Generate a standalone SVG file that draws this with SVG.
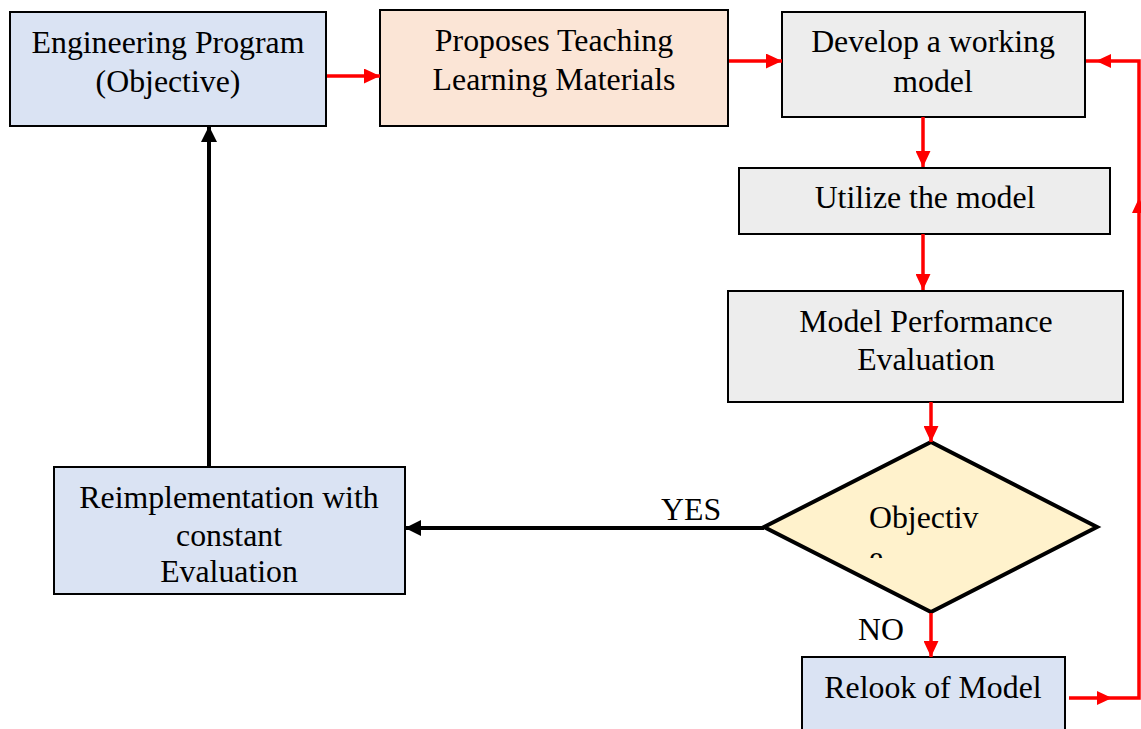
<svg xmlns="http://www.w3.org/2000/svg" width="1141" height="729" viewBox="0 0 1141 729">
<style>
.box{stroke:#000;stroke-width:2}
.t{font-family:"Liberation Serif","Times New Roman",serif;font-size:31.8px;fill:#000;text-anchor:middle}
.tl{font-family:"Liberation Serif","Times New Roman",serif;font-size:31.8px;fill:#000}
.red{stroke:#ff0000;stroke-width:3.5;fill:none}
.blk{stroke:#000;stroke-width:4;fill:none}
</style>
<defs>
<marker id="ar" viewBox="0 0 15 14" refX="15" refY="7" markerUnits="userSpaceOnUse" markerWidth="16" markerHeight="15" orient="auto"><path d="M0,0L15,7L0,14z" fill="#ff0000"/></marker>
<marker id="ab" viewBox="0 0 16 16" refX="16" refY="8" markerUnits="userSpaceOnUse" markerWidth="16" markerHeight="16" orient="auto"><path d="M0,0L16,8L0,16z" fill="#000"/></marker>
<clipPath id="dclip"><rect x="760" y="440" width="340" height="118"/></clipPath>
</defs>
<rect width="1141" height="729" fill="#fff"/>
<g id="n-engineering"><rect class="box" x="10" y="12" width="316" height="114" fill="#dae3f3"/><text class="t" x="168" y="53">Engineering Program</text><text class="t" x="168" y="92">(Objective)</text></g>
<g id="n-proposes"><rect class="box" x="380" y="10" width="348" height="116" fill="#fbe5d6"/><text class="t" x="554" y="51">Proposes Teaching</text><text class="t" x="554" y="90">Learning Materials</text></g>
<g id="n-develop"><rect class="box" x="782" y="12" width="303" height="105" fill="#ededed"/><text class="t" x="933" y="52">Develop a working</text><text class="t" x="933" y="92">model</text></g>
<g id="n-utilize"><rect class="box" x="739" y="168" width="371" height="66" fill="#ededed"/><text class="t" x="925" y="208">Utilize the model</text></g>
<g id="n-performance"><rect class="box" x="728" y="291" width="395" height="111" fill="#ededed"/><text class="t" x="926" y="332">Model Performance</text><text class="t" x="926" y="370">Evaluation</text></g>
<g id="n-objective"><polygon points="764,527 931,442 1097,527 931,612" fill="#fff2cc" stroke="#000" stroke-width="4" stroke-linejoin="miter"/><g clip-path="url(#dclip)"><text class="tl" x="869" y="528">Objectiv</text><text class="tl" x="869" y="568">e</text></g></g>
<g id="n-reimplementation"><rect class="box" x="54" y="467" width="351" height="127" fill="#dae3f3"/><text class="t" x="229" y="508">Reimplementation with</text><text class="t" x="229" y="546">constant</text><text class="t" x="229" y="582">Evaluation</text></g>
<g id="n-relook"><rect class="box" x="802" y="657" width="263" height="80" fill="#dae3f3"/><text class="t" x="933" y="698">Relook of Model</text></g>
<g id="connectors">
<line class="red" x1="327" y1="76" x2="380" y2="76" marker-end="url(#ar)"/>
<line class="red" x1="729" y1="61" x2="782" y2="61" marker-end="url(#ar)"/>
<line class="red" x1="923" y1="117" x2="923" y2="167" marker-end="url(#ar)"/>
<line class="red" x1="923" y1="234" x2="923" y2="290" marker-end="url(#ar)"/>
<line class="red" x1="931" y1="402" x2="931" y2="442" marker-end="url(#ar)"/>
<line class="red" x1="931" y1="613" x2="931" y2="657" marker-end="url(#ar)"/>
<path class="red" d="M1069,698H1139V61H1086" stroke-linejoin="miter"/>
<path d="M1097,691L1112,698L1097,705z" fill="#ff0000"/>
<path d="M1132,213L1139,198L1146,213z" fill="#ff0000"/>
<path d="M1111,54L1096,61L1111,68z" fill="#ff0000"/>
<line class="blk" x1="764" y1="528" x2="405" y2="528" marker-end="url(#ab)"/>
<line class="blk" x1="209" y1="467" x2="209" y2="126" marker-end="url(#ab)"/>
<text class="tl" x="661" y="520">YES</text>
<text class="tl" x="858" y="640">NO</text>
</g>
</svg>
